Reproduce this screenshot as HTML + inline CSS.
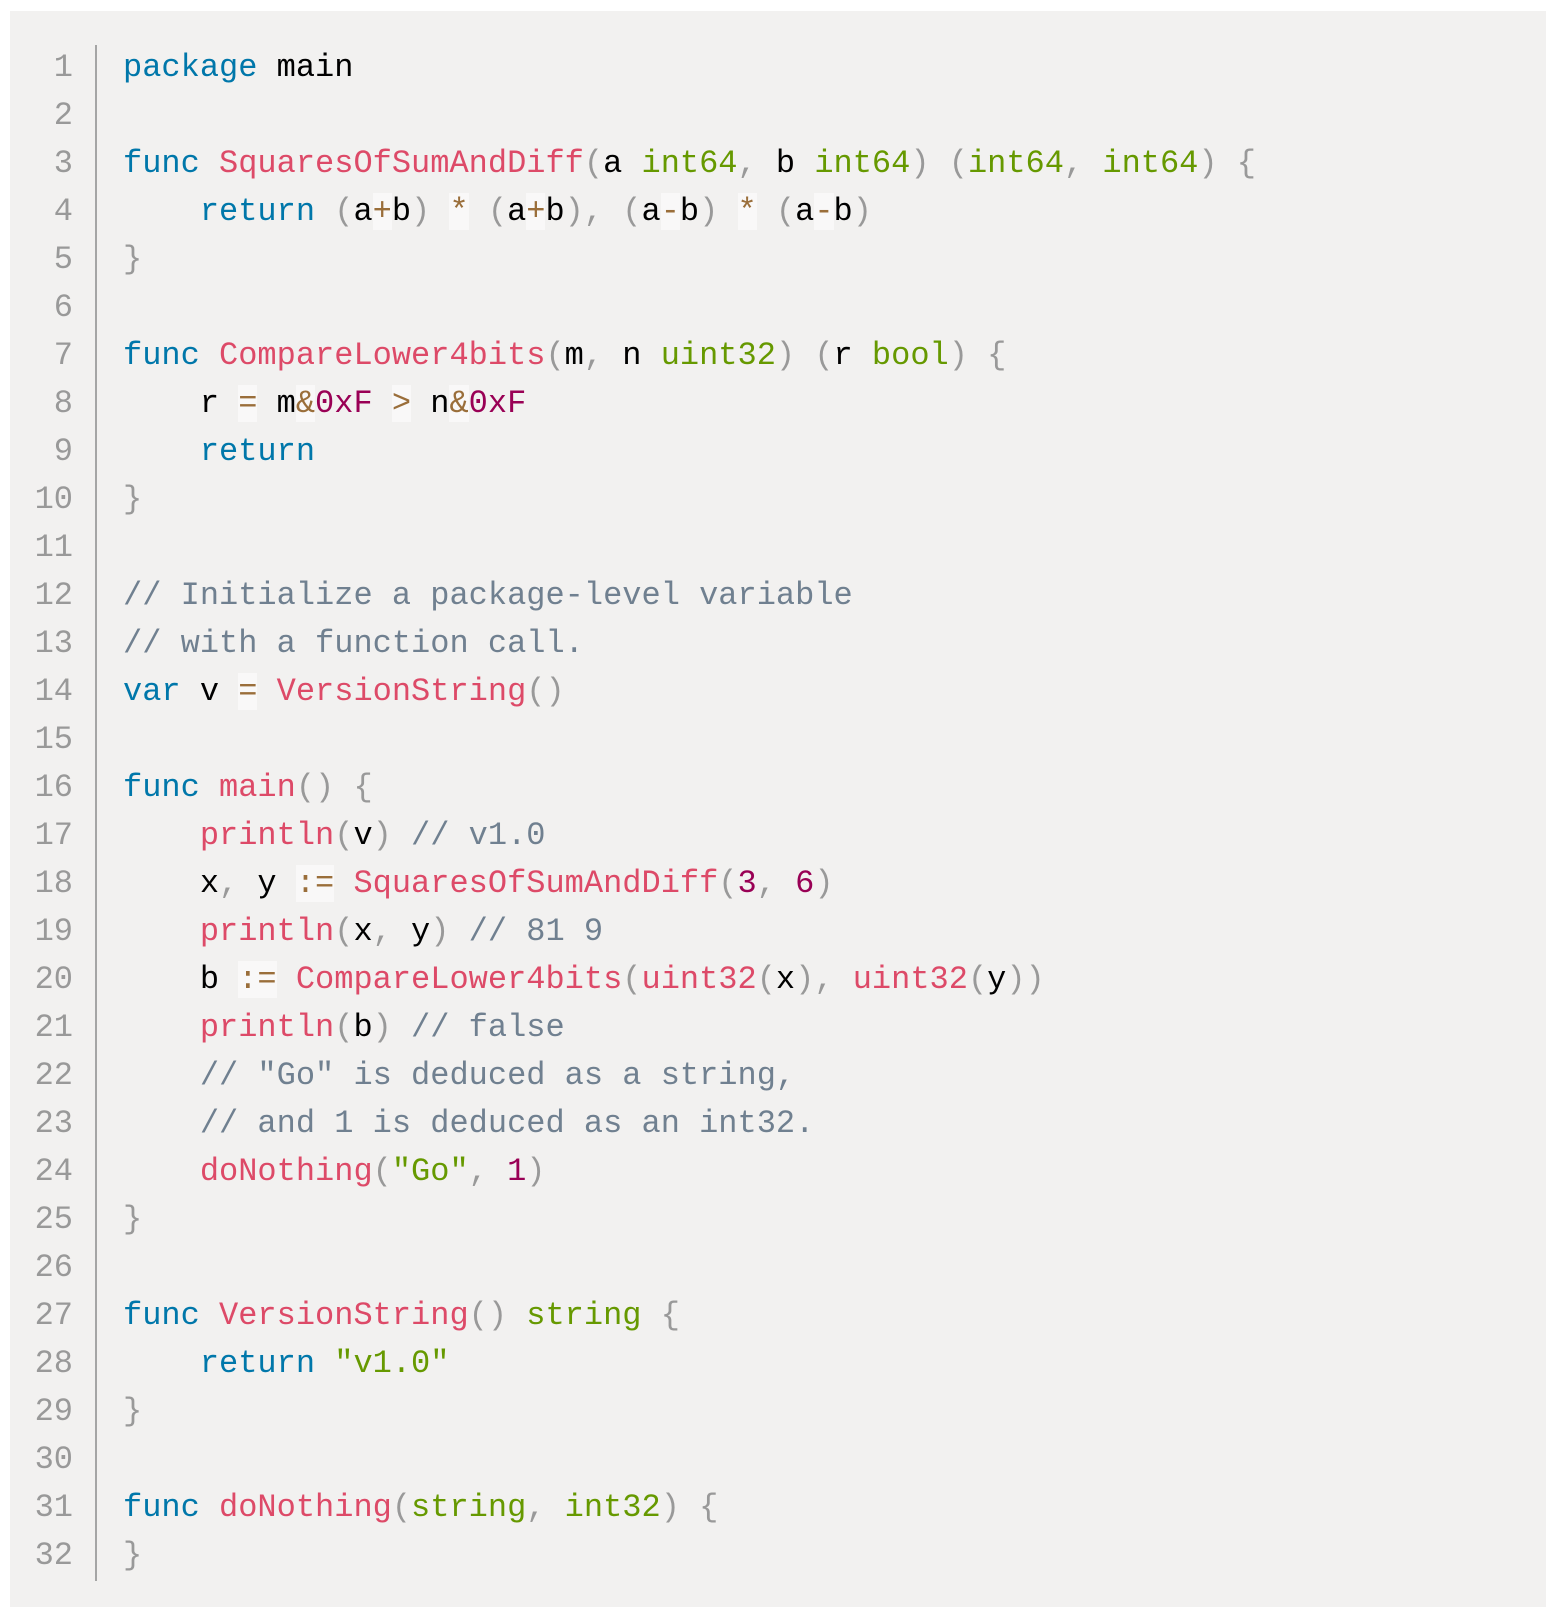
<!DOCTYPE html>
<html><head><meta charset="utf-8">
<style>
html,body{margin:0;padding:0;background:#fff;width:1554px;height:1614px;overflow:hidden}
.box{position:absolute;left:10px;top:11px;width:1536px;height:1596px;background:#f2f1f0}
.gut{position:absolute;left:95px;top:45px;width:2px;height:1536px;background:#a5a5a5}
.nums,.code{position:absolute;top:44px;font-family:"Liberation Mono","DejaVu Sans Mono",monospace;font-size:32px;line-height:48px;white-space:pre;margin:0}
.nums{left:0;width:73px;text-align:right;color:#999}
.code{left:123px;color:#000}
.k{color:#0077aa}.f{color:#dd4a68}.t{color:#669900}.p{color:#999}.o{color:#9a6e3a;background:rgba(255,255,255,.5)}.n{color:#990055}.c{color:#708090}.s{color:#669900}
</style></head><body>
<div class="box"></div>
<div class="gut"></div>
<pre class="nums">1
2
3
4
5
6
7
8
9
10
11
12
13
14
15
16
17
18
19
20
21
22
23
24
25
26
27
28
29
30
31
32</pre>
<pre class="code"><span class="k">package</span> main

<span class="k">func</span> <span class="f">SquaresOfSumAndDiff</span><span class="p">(</span>a <span class="t">int64</span><span class="p">,</span> b <span class="t">int64</span><span class="p">)</span> <span class="p">(</span><span class="t">int64</span><span class="p">,</span> <span class="t">int64</span><span class="p">)</span> <span class="p">{</span>
    <span class="k">return</span> <span class="p">(</span>a<span class="o">+</span>b<span class="p">)</span> <span class="o">*</span> <span class="p">(</span>a<span class="o">+</span>b<span class="p">)</span><span class="p">,</span> <span class="p">(</span>a<span class="o">-</span>b<span class="p">)</span> <span class="o">*</span> <span class="p">(</span>a<span class="o">-</span>b<span class="p">)</span>
<span class="p">}</span>

<span class="k">func</span> <span class="f">CompareLower4bits</span><span class="p">(</span>m<span class="p">,</span> n <span class="t">uint32</span><span class="p">)</span> <span class="p">(</span>r <span class="t">bool</span><span class="p">)</span> <span class="p">{</span>
    r <span class="o">=</span> m<span class="o">&amp;</span><span class="n">0xF</span> <span class="o">&gt;</span> n<span class="o">&amp;</span><span class="n">0xF</span>
    <span class="k">return</span>
<span class="p">}</span>

<span class="c">// Initialize a package-level variable</span>
<span class="c">// with a function call.</span>
<span class="k">var</span> v <span class="o">=</span> <span class="f">VersionString</span><span class="p">()</span>

<span class="k">func</span> <span class="f">main</span><span class="p">()</span> <span class="p">{</span>
    <span class="f">println</span><span class="p">(</span>v<span class="p">)</span> <span class="c">// v1.0</span>
    x<span class="p">,</span> y <span class="o">:=</span> <span class="f">SquaresOfSumAndDiff</span><span class="p">(</span><span class="n">3</span><span class="p">,</span> <span class="n">6</span><span class="p">)</span>
    <span class="f">println</span><span class="p">(</span>x<span class="p">,</span> y<span class="p">)</span> <span class="c">// 81 9</span>
    b <span class="o">:=</span> <span class="f">CompareLower4bits</span><span class="p">(</span><span class="f">uint32</span><span class="p">(</span>x<span class="p">)</span><span class="p">,</span> <span class="f">uint32</span><span class="p">(</span>y<span class="p">)</span><span class="p">)</span>
    <span class="f">println</span><span class="p">(</span>b<span class="p">)</span> <span class="c">// false</span>
    <span class="c">// "Go" is deduced as a string,</span>
    <span class="c">// and 1 is deduced as an int32.</span>
    <span class="f">doNothing</span><span class="p">(</span><span class="s">"Go"</span><span class="p">,</span> <span class="n">1</span><span class="p">)</span>
<span class="p">}</span>

<span class="k">func</span> <span class="f">VersionString</span><span class="p">()</span> <span class="t">string</span> <span class="p">{</span>
    <span class="k">return</span> <span class="s">"v1.0"</span>
<span class="p">}</span>

<span class="k">func</span> <span class="f">doNothing</span><span class="p">(</span><span class="t">string</span><span class="p">,</span> <span class="t">int32</span><span class="p">)</span> <span class="p">{</span>
<span class="p">}</span></pre>
</body></html>
